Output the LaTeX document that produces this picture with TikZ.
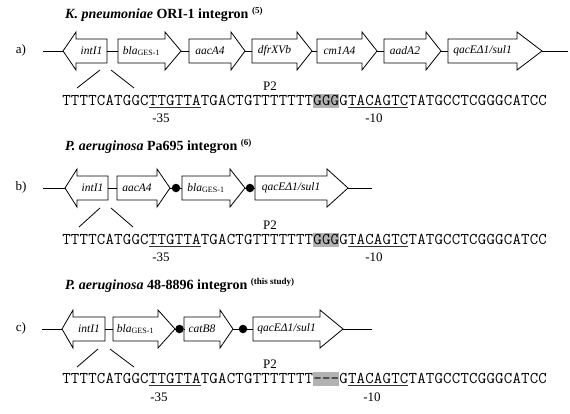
\documentclass[tikz,border=0pt]{standalone}
\usepackage{fontspec}
\setmainfont{Liberation Serif}
\definecolor{shadegray}{RGB}{178,178,178}
\tikzset{
  genebox/.style={draw=black, line width=0.8pt, fill=white, line join=miter},
  genelabel/.style={font=\fontsize{11.5}{13}\selectfont\itshape, inner sep=0pt},
  conn/.style={draw=black, line width=0.8pt},
  vline/.style={draw=black, line width=0.8pt},
  dotnode/.style={circle, fill=black, inner sep=0pt, minimum size=8.5pt},
  seqtext/.style={font=\fontsize{16.4}{18}\selectfont\ttfamily, inner sep=0pt, anchor=base west},
  uline/.style={draw=black!80, line width=0.8pt},
  numlabel/.style={font=\fontsize{13}{15}\selectfont, inner sep=0pt},
  rowlabel/.style={font=\fontsize{13}{15}\selectfont, inner sep=0pt},
  titletext/.style={font=\fontsize{14}{16}\selectfont\bfseries, inner sep=0pt, anchor=west}
}
\newcommand\GeneR[6]{%
  \draw[genebox] (#2,#5-12) -- (#3,#5-12) -- (#3,#5-19) -- (#4,#5) -- (#3,#5+19) -- (#3,#5+12) -- (#2,#5+12) -- cycle;
  \node[genelabel] (#1) at ({(#2+#3)/2},#5) {#6};
  \coordinate (#1-w) at (#2,#5);
  \coordinate (#1-e) at (#4,#5);}
\newcommand\GeneL[6]{%
  \draw[genebox] (#4,#5-12) -- (#3,#5-12) -- (#3,#5-19) -- (#2,#5) -- (#3,#5+19) -- (#3,#5+12) -- (#4,#5+12) -- cycle;
  \node[genelabel] (#1) at ({(#3+#4)/2},#5) {#6};
  \coordinate (#1-w) at (#2,#5);
  \coordinate (#1-e) at (#4,#5);}
\newcommand\blaGES{bla\textsubscript{\upshape GES-1}}
\newcommand\refsup[1]{\raisebox{0.8ex}{\fontsize{9}{10}\selectfont\bfseries #1}}
% fixed-pitch sequence: every character in a box 8.658pt wide
\def\seqloop#1{\ifx#1\relax\else\makebox[8.658pt]{#1}\expandafter\seqloop\fi}
\newcommand\dnaseq[1]{\seqloop#1\relax}
\begin{document}
\begin{tikzpicture}[x=1pt,y=-1pt]
\useasboundingbox (0,0) rectangle (570,413);
% ---------------- row a ----------------
\node[titletext] (a-title) at (65,14) {\textit{K. pneumoniae} ORI-1 integron \refsup{(5)}};
\node[rowlabel] (a-lab) at (21,50) {a)};
\coordinate (a-start) at (43,51);
\coordinate (a-end) at (568,51);
\GeneL{a1}{63}{76}{107}{51}{intI1}
\GeneR{a2}{118}{165}{181}{51}{\blaGES}
\GeneR{a3}{189}{231}{245}{51}{aacA4}
\GeneR{a4}{252}{297}{312}{51}{dfrXVb}
\GeneR{a5}{317}{362}{377}{51}{cm1A4}
\GeneR{a6}{384}{426}{441}{51}{aadA2}
\GeneR{a7}{448}{517}{542}{51}{qacEΔ1/sul1}
\draw[conn] (a-start) -- (a1-w);
\draw[conn] (a1-e) -- (a2-w);
\draw[conn] (a2-e) -- (a3-w);
\draw[conn] (a3-e) -- (a4-w);
\draw[conn] (a4-e) -- (a5-w);
\draw[conn] (a5-e) -- (a6-w);
\draw[conn] (a6-e) -- (a7-w);
\draw[conn] (a7-e) -- (a-end);
\coordinate (a-v1) at (100,70);
\coordinate (a-v2) at (111,70);
\coordinate (a-v3) at (77,88);
\coordinate (a-v4) at (134,88);
\draw[vline] (a-v1) -- (a-v3);
\draw[vline] (a-v2) -- (a-v4);
\fill[shadegray] (313.08,93.5) rectangle (339.06,108);
\node[seqtext] (a-seq) at (62,105) {\dnaseq{TTTTCATGGCTTGTTATGACTGTTTTTTTGGGGTACAGTCTATGCCTCGGGCATCC}};
\draw[uline] (148.6,107.5) -- (200.5,107.5);
\draw[uline] (347.7,107.5) -- (408.3,107.5);
\node[numlabel] (a-p2) at (270,86) {P2};
\node[numlabel] (a-m35) at (161,118) {-35};
\node[numlabel] (a-m10) at (374,118) {-10};
% ---------------- row b ----------------
\node[titletext] (b-title) at (65,146) {\textit{P. aeruginosa} Pa695 integron \refsup{(6)}};
\node[rowlabel] (b-lab) at (21,187) {b)};
\coordinate (b-start) at (43,188);
\coordinate (b-end) at (372,188);
\GeneL{b1}{65}{77}{108}{188}{intI1}
\GeneR{b2}{117}{157}{170}{188}{aacA4}
\GeneR{b3}{182}{230}{245}{188}{\blaGES}
\GeneR{b4}{255}{327}{348}{188}{qacEΔ1/sul1}
\node[dotnode] (b-d1) at (176,188) {};
\node[dotnode] (b-d2) at (250,188) {};
\draw[conn] (b-start) -- (b1-w);
\draw[conn] (b1-e) -- (b2-w);
\draw[conn] (b2-e) -- (b-d1);
\draw[conn] (b-d1) -- (b3-w);
\draw[conn] (b3-e) -- (b-d2);
\draw[conn] (b-d2) -- (b4-w);
\draw[conn] (b4-e) -- (b-end);
\coordinate (b-v1) at (100,208);
\coordinate (b-v2) at (111,208);
\coordinate (b-v3) at (79,227);
\coordinate (b-v4) at (133,227);
\draw[vline] (b-v1) -- (b-v3);
\draw[vline] (b-v2) -- (b-v4);
\fill[shadegray] (313.08,232.5) rectangle (339.06,247);
\node[seqtext] (b-seq) at (62,244) {\dnaseq{TTTTCATGGCTTGTTATGACTGTTTTTTTGGGGTACAGTCTATGCCTCGGGCATCC}};
\draw[uline] (148.6,246.5) -- (200.5,246.5);
\draw[uline] (347.7,246.5) -- (408.3,246.5);
\node[numlabel] (b-p2) at (270,225) {P2};
\node[numlabel] (b-m35) at (161,257) {-35};
\node[numlabel] (b-m10) at (374,257) {-10};
% ---------------- row c ----------------
\node[titletext] (c-title) at (65,285) {\textit{P. aeruginosa} 48-8896 integron \refsup{(this study)}};
\node[rowlabel] (c-lab) at (21,328) {c)};
\coordinate (c-start) at (42,329);
\coordinate (c-end) at (372,329);
\GeneL{c1}{62}{73}{105}{329}{intI1}
\GeneR{c2}{113}{158}{175}{329}{\blaGES}
\GeneR{c3}{184}{220}{233}{329}{catB8}
\GeneR{c4}{253}{320}{343}{329}{qacEΔ1/sul1}
\node[dotnode] (c-d1) at (179.5,329) {};
\node[dotnode] (c-d2) at (243,329) {};
\draw[conn] (c-start) -- (c1-w);
\draw[conn] (c1-e) -- (c2-w);
\draw[conn] (c2-e) -- (c-d1);
\draw[conn] (c-d1) -- (c3-w);
\draw[conn] (c3-e) -- (c-d2);
\draw[conn] (c-d2) -- (c4-w);
\draw[conn] (c4-e) -- (c-end);
\coordinate (c-v1) at (98,349);
\coordinate (c-v2) at (110,349);
\coordinate (c-v3) at (77,367);
\coordinate (c-v4) at (134,367);
\draw[vline] (c-v1) -- (c-v3);
\draw[vline] (c-v2) -- (c-v4);
\fill[shadegray] (313.08,371.5) rectangle (339.06,386);
\node[seqtext] (c-seq) at (62,383) {\dnaseq{TTTTCATGGCTTGTTATGACTGTTTTTTT---GTACAGTCTATGCCTCGGGCATCC}};
\draw[uline] (148.6,385.5) -- (200.5,385.5);
\draw[uline] (347.7,385.5) -- (408.3,385.5);
\node[numlabel] (c-p2) at (270,364) {P2};
\node[numlabel] (c-m35) at (159,397) {-35};
\node[numlabel] (c-m10) at (372,397) {-10};
\end{tikzpicture}
\end{document}
